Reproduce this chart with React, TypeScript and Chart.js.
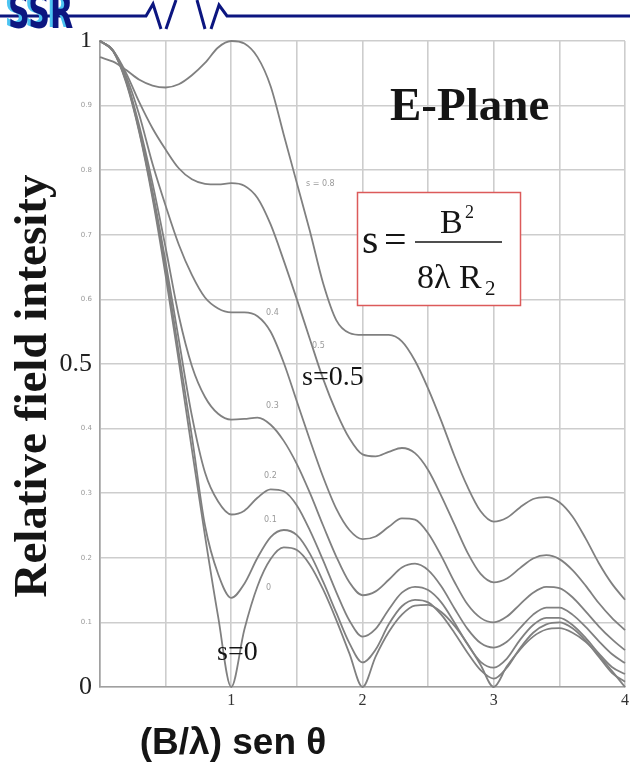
import { useEffect, useRef } from 'react';
import { Chart, registerables } from 'chart.js';

Chart.register(...registerables);

// x = (B/λ) sen θ
const xs = [0, 0.1, 0.2, 0.3, 0.4, 0.5, 0.6, 0.7, 0.8, 0.9, 1.0, 1.1, 1.2, 1.3, 1.4, 1.5, 1.6, 1.7, 1.8, 1.9, 2.0,
  2.1, 2.2, 2.3, 2.4, 2.5, 2.6, 2.7, 2.8, 2.9, 3.0, 3.1, 3.2, 3.3, 3.4, 3.5, 3.6, 3.7, 3.8, 3.9, 4.0];

// relative field intensity for each s curve (top to bottom)
const curveA = [0.975, 0.968, 0.955, 0.94, 0.931, 0.928, 0.933, 0.947, 0.966, 0.99, 1.0, 0.996, 0.975, 0.93, 0.855, 0.78,
  0.705, 0.625, 0.568, 0.548, 0.545, 0.545, 0.545, 0.535, 0.505, 0.462, 0.412, 0.358, 0.31, 0.272, 0.256, 0.262, 0.278,
  0.291, 0.294, 0.286, 0.264, 0.23, 0.192, 0.16, 0.135];
const curveB = [1.0, 0.985, 0.95, 0.905, 0.865, 0.832, 0.803, 0.786, 0.779, 0.778, 0.78, 0.776, 0.757, 0.716, 0.66, 0.6,
  0.538, 0.477, 0.426, 0.385, 0.36, 0.357, 0.364, 0.37, 0.362, 0.336, 0.296, 0.252, 0.208, 0.175, 0.162, 0.168, 0.184,
  0.199, 0.204, 0.198, 0.181, 0.157, 0.13, 0.107, 0.088];
const curveC = [1.0, 0.985, 0.945, 0.885, 0.81, 0.745, 0.685, 0.638, 0.603, 0.586, 0.58, 0.58, 0.574, 0.55, 0.502, 0.442,
  0.382, 0.325, 0.276, 0.243, 0.229, 0.233, 0.248, 0.261, 0.259, 0.238, 0.203, 0.163, 0.128, 0.107, 0.1, 0.109, 0.128,
  0.146, 0.155, 0.153, 0.139, 0.117, 0.094, 0.074, 0.057];
const curveD = [1.0, 0.985, 0.94, 0.868, 0.78, 0.68, 0.575, 0.497, 0.449, 0.423, 0.414, 0.415, 0.417, 0.406, 0.381, 0.345,
  0.3, 0.25, 0.202, 0.162, 0.142, 0.148, 0.166, 0.185, 0.191, 0.181, 0.156, 0.122, 0.09, 0.068, 0.061, 0.07, 0.091,
  0.112, 0.123, 0.123, 0.112, 0.093, 0.071, 0.051, 0.037];
const curveE = [1.0, 0.985, 0.938, 0.863, 0.768, 0.658, 0.538, 0.42, 0.332, 0.287, 0.267, 0.273, 0.293, 0.306, 0.303, 0.281,
  0.242, 0.196, 0.147, 0.103, 0.078, 0.09, 0.12, 0.146, 0.155, 0.15, 0.131, 0.1, 0.066, 0.039, 0.03, 0.044, 0.073,
  0.096, 0.107, 0.107, 0.096, 0.076, 0.052, 0.031, 0.02];
const curveF = [1.0, 0.985, 0.937, 0.86, 0.762, 0.648, 0.518, 0.388, 0.25, 0.175, 0.138, 0.16, 0.2, 0.232, 0.243, 0.235,
  0.206, 0.163, 0.115, 0.068, 0.038, 0.058, 0.097, 0.125, 0.135, 0.131, 0.112, 0.084, 0.053, 0.026, 0.013, 0.03, 0.06,
  0.084, 0.097, 0.1, 0.091, 0.072, 0.047, 0.022, 0.008];
const curveS0 = [1.0, 0.984, 0.935, 0.858, 0.757, 0.637, 0.505, 0.368, 0.234, 0.109, 0.0, 0.089, 0.156, 0.198, 0.216, 0.212,
  0.189, 0.151, 0.104, 0.052, 0.0, 0.047, 0.085, 0.112, 0.126, 0.127, 0.116, 0.095, 0.067, 0.034, 0.0, 0.032, 0.058,
  0.078, 0.089, 0.091, 0.084, 0.07, 0.049, 0.025, 0.0];

const seriesNames = ['s = 0.8', '0.5', '0.4', '0.3', '0.2', '0.1', 's = 0'];
const seriesValues = [curveA, curveB, curveC, curveD, curveE, curveF, curveS0];

const xTickLabels = ['1', '2', '3', '4'];
const yMajorTicks: Record<string, string> = { '1': '1', '0.5': '0.5', '0': '0' };

const NAVY = '#0c1680';
const CURVE = '#808080';
const GRID = '#cdcdcd';

const decor = {
  id: 'decor',
  beforeDraw(chart: any) {
    const { ctx, width, height } = chart;
    ctx.save();
    ctx.fillStyle = '#ffffff';
    ctx.fillRect(0, 0, width, height);
    ctx.restore();
  },
  afterDraw(chart: any) {
    const ctx: CanvasRenderingContext2D = chart.ctx;
    ctx.save();

    // header line with pulse
    ctx.strokeStyle = NAVY;
    ctx.lineWidth = 3;
    ctx.lineJoin = 'miter';
    ctx.beginPath();
    ctx.moveTo(0, 16); ctx.lineTo(146, 16); ctx.lineTo(153, 4); ctx.lineTo(161, 29);
    ctx.moveTo(166, 29); ctx.lineTo(176, 0);
    ctx.moveTo(197, 0); ctx.lineTo(205, 29);
    ctx.moveTo(211, 29); ctx.lineTo(219, 5); ctx.lineTo(227, 16); ctx.lineTo(630, 16);
    ctx.stroke();

    // logo
    ctx.save();
    ctx.translate(8, 28);
    ctx.scale(1.05, 1.5);
    ctx.font = 'bold 32px "DejaVu Sans Condensed", "DejaVu Sans"';
    ctx.textBaseline = 'alphabetic';
    ctx.textAlign = 'left';
    ctx.fillStyle = '#4cc4f2';
    ctx.fillText('SSR', -3, -1);
    ctx.fillStyle = NAVY;
    ctx.fillText('SSR', 0, 0);
    ctx.restore();

    ctx.fillStyle = '#151515';
    ctx.textAlign = 'left';
    ctx.textBaseline = 'alphabetic';

    // E-Plane
    ctx.font = 'bold 47px "Liberation Serif"';
    ctx.fillText('E-Plane', 390, 120);

    // formula box
    ctx.fillStyle = '#ffffff';
    ctx.fillRect(357, 192, 163, 113);
    ctx.strokeStyle = '#dc5a5a';
    ctx.lineWidth = 1.5;
    ctx.strokeRect(357.5, 192.5, 163, 113);
    ctx.fillStyle = '#151515';
    ctx.font = '42px "Liberation Serif"';
    ctx.fillText('s', 362, 253);
    ctx.font = '40px "Liberation Serif"';
    ctx.fillText('=', 384, 253);
    ctx.font = '34px "Liberation Serif"';
    ctx.fillText('B', 440, 233);
    ctx.font = '18px "Liberation Serif"';
    ctx.fillText('2', 465, 218);
    ctx.font = '34px "Liberation Serif"';
    ctx.fillText('8λ R', 417, 288);
    ctx.font = '21px "Liberation Serif"';
    ctx.fillText('2', 485, 295);
    ctx.strokeStyle = '#151515';
    ctx.lineWidth = 1.5;
    ctx.beginPath();
    ctx.moveTo(415, 242); ctx.lineTo(502, 242);
    ctx.stroke();

    // curve labels
    ctx.font = '28px "Liberation Serif"';
    ctx.fillText('s=0.5', 302, 385);
    ctx.fillText('s=0', 217, 660);

    ctx.font = '8px "DejaVu Sans"';
    ctx.fillStyle = '#9a9a9a';
    ctx.fillText(seriesNames[0], 306, 186);
    ctx.fillText(seriesNames[1], 312, 348);
    ctx.fillText(seriesNames[2], 266, 315);
    ctx.fillText(seriesNames[3], 266, 408);
    ctx.fillText(seriesNames[4], 264, 478);
    ctx.fillText(seriesNames[5], 264, 522);
    ctx.fillText('0', 266, 590);

    // axis titles
    ctx.fillStyle = '#151515';
    ctx.save();
    ctx.translate(46, 386);
    ctx.rotate(-Math.PI / 2);
    ctx.textAlign = 'center';
    ctx.font = 'bold 47px "Liberation Serif"';
    ctx.fillText('Relative field intesity', 0, 0);
    ctx.restore();

    ctx.textAlign = 'center';
    ctx.font = 'bold 37px "Liberation Sans"';
    ctx.fillText('(B/λ) sen θ', 233, 754);

    ctx.restore();
  },
};

export default function App() {
  const ref = useRef<HTMLCanvasElement | null>(null);

  useEffect(() => {
    if (!ref.current) return;
    const datasets = seriesValues.map((vals, i) => ({
      label: seriesNames[i],
      data: xs.map((x, j) => ({ x, y: vals[j] })),
      borderColor: CURVE,
      borderWidth: 1.8,
      pointRadius: 0,
      fill: false,
      cubicInterpolationMode: 'monotone' as const,
      clip: 5,
    }));
    const chart = new Chart(ref.current, {
      type: 'line',
      data: { datasets },
      options: {
        animation: false,
        responsive: false,
        layout: { padding: { top: 41, right: 5, left: 0, bottom: 0 } },
        plugins: { legend: { display: false }, tooltip: { enabled: false } },
        scales: {
          x: {
            type: 'linear',
            min: 0,
            max: 4,
            afterFit: (s: any) => { s.height = 76; s.paddingRight = 0; s.paddingLeft = 0; },
            ticks: {
              stepSize: 0.5,
              autoSkip: false,
              maxRotation: 0,
              padding: 4,
              color: '#333',
              font: { family: '"Liberation Serif"', size: 16 },
              callback: (v: any) => {
                const n = Number(v);
                if (Math.abs(n - Math.round(n)) < 1e-6 && Math.round(n) >= 1) return xTickLabels[Math.round(n) - 1];
                return '';
              },
            },
            grid: { color: GRID, lineWidth: 1.6, drawTicks: false },
            border: { color: '#a0a0a0', width: 1.6 },
          },
          y: {
            type: 'linear',
            min: 0,
            max: 1,
            afterFit: (s: any) => { s.width = 100; s.paddingTop = 0; s.paddingBottom = 0; },
            ticks: {
              stepSize: 0.1,
              autoSkip: false,
              padding: 8,
              color: (c: any) => {
                const k = String(Math.round((c.tick?.value ?? 0) * 10) / 10);
                return yMajorTicks[k] !== undefined ? '#222' : '#9a9a9a';
              },
              font: (c: any) => {
                const k = String(Math.round((c.tick?.value ?? 0) * 10) / 10);
                if (k === '1') return { family: '"Liberation Serif"', size: 24 };
                if (yMajorTicks[k] !== undefined) return { family: '"Liberation Serif"', size: 26 };
                return { family: '"DejaVu Sans"', size: 7 };
              },
              callback: (v: any) => {
                const k = String(Math.round(Number(v) * 10) / 10);
                return yMajorTicks[k] !== undefined ? yMajorTicks[k] : k;
              },
            },
            grid: { color: GRID, lineWidth: 1.6, drawTicks: false },
            border: { color: '#a0a0a0', width: 1.6 },
          },
        },
      },
      plugins: [decor],
    });
    return () => chart.destroy();
  }, []);

  return (
    <div style={{ position: 'absolute', left: 0, top: 0, width: 630, height: 763, background: '#fff' }}>
      <canvas ref={ref} width={630} height={763} style={{ display: 'block' }} />
    </div>
  );
}
